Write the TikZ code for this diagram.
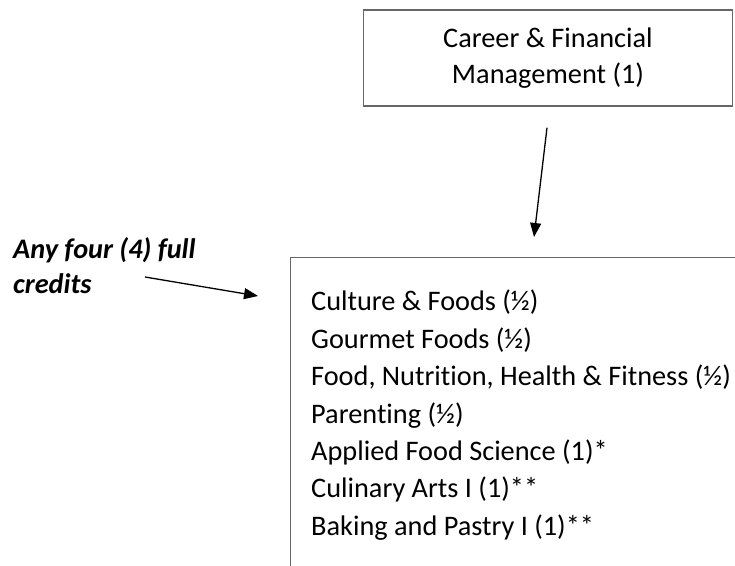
\documentclass[tikz,border=0pt]{standalone}
\usepackage{fontspec}
\setmainfont{Carlito}[Ligatures=NoCommon]
\usetikzlibrary{arrows.meta}

\begin{document}
\begin{tikzpicture}[x=1pt,y=1pt,
  box/.style={draw=black!60,line width=1.4pt,inner sep=0pt},
  pointer/.style={line width=1.3pt,-{Triangle[length=14pt,width=11pt]}}]
  \useasboundingbox (0,0) rectangle (735,565);
  % Top box
  \node[box,minimum width=369,minimum height=96,align=center,
        font=\fontsize{28.3}{36}\selectfont] (career) at (548,507)
        {Career \& Financial\\Management (1)};
  % Lower box, cut by the page edge
  \node[box,anchor=north west,minimum width=480,minimum height=330] (electives) at (290,308) {};
  \node[anchor=north west,inner sep=0pt,align=left,
        font=\fontsize{28.3}{37.4}\selectfont] (list) at (311,275)
        {Culture \& Foods (½)\\
         Gourmet Foods (½)\\
         Food, Nutrition, Health \& Fitness (½)\\
         Parenting (½)\\
         Applied Food Science (1)*\\
         Culinary Arts I (1)**\\
         Baking and Pastry I (1)**};
  % Side note
  \node[anchor=north west,inner sep=0pt,align=left,
        font=\fontsize{28.3}{35}\selectfont\bfseries\itshape] (anyfour) at (13,328)
        {Any four (4) full\\credits};
  % Arrows
  \draw[pointer] ([shift={(-1,-21)}]career.south) -- ([shift={(244,20)}]electives.north west);
  \draw[pointer] ([shift={(132,-40)}]anyfour.north west) -- ([shift={(-32,-39)}]electives.north west);
\end{tikzpicture}
\end{document}
